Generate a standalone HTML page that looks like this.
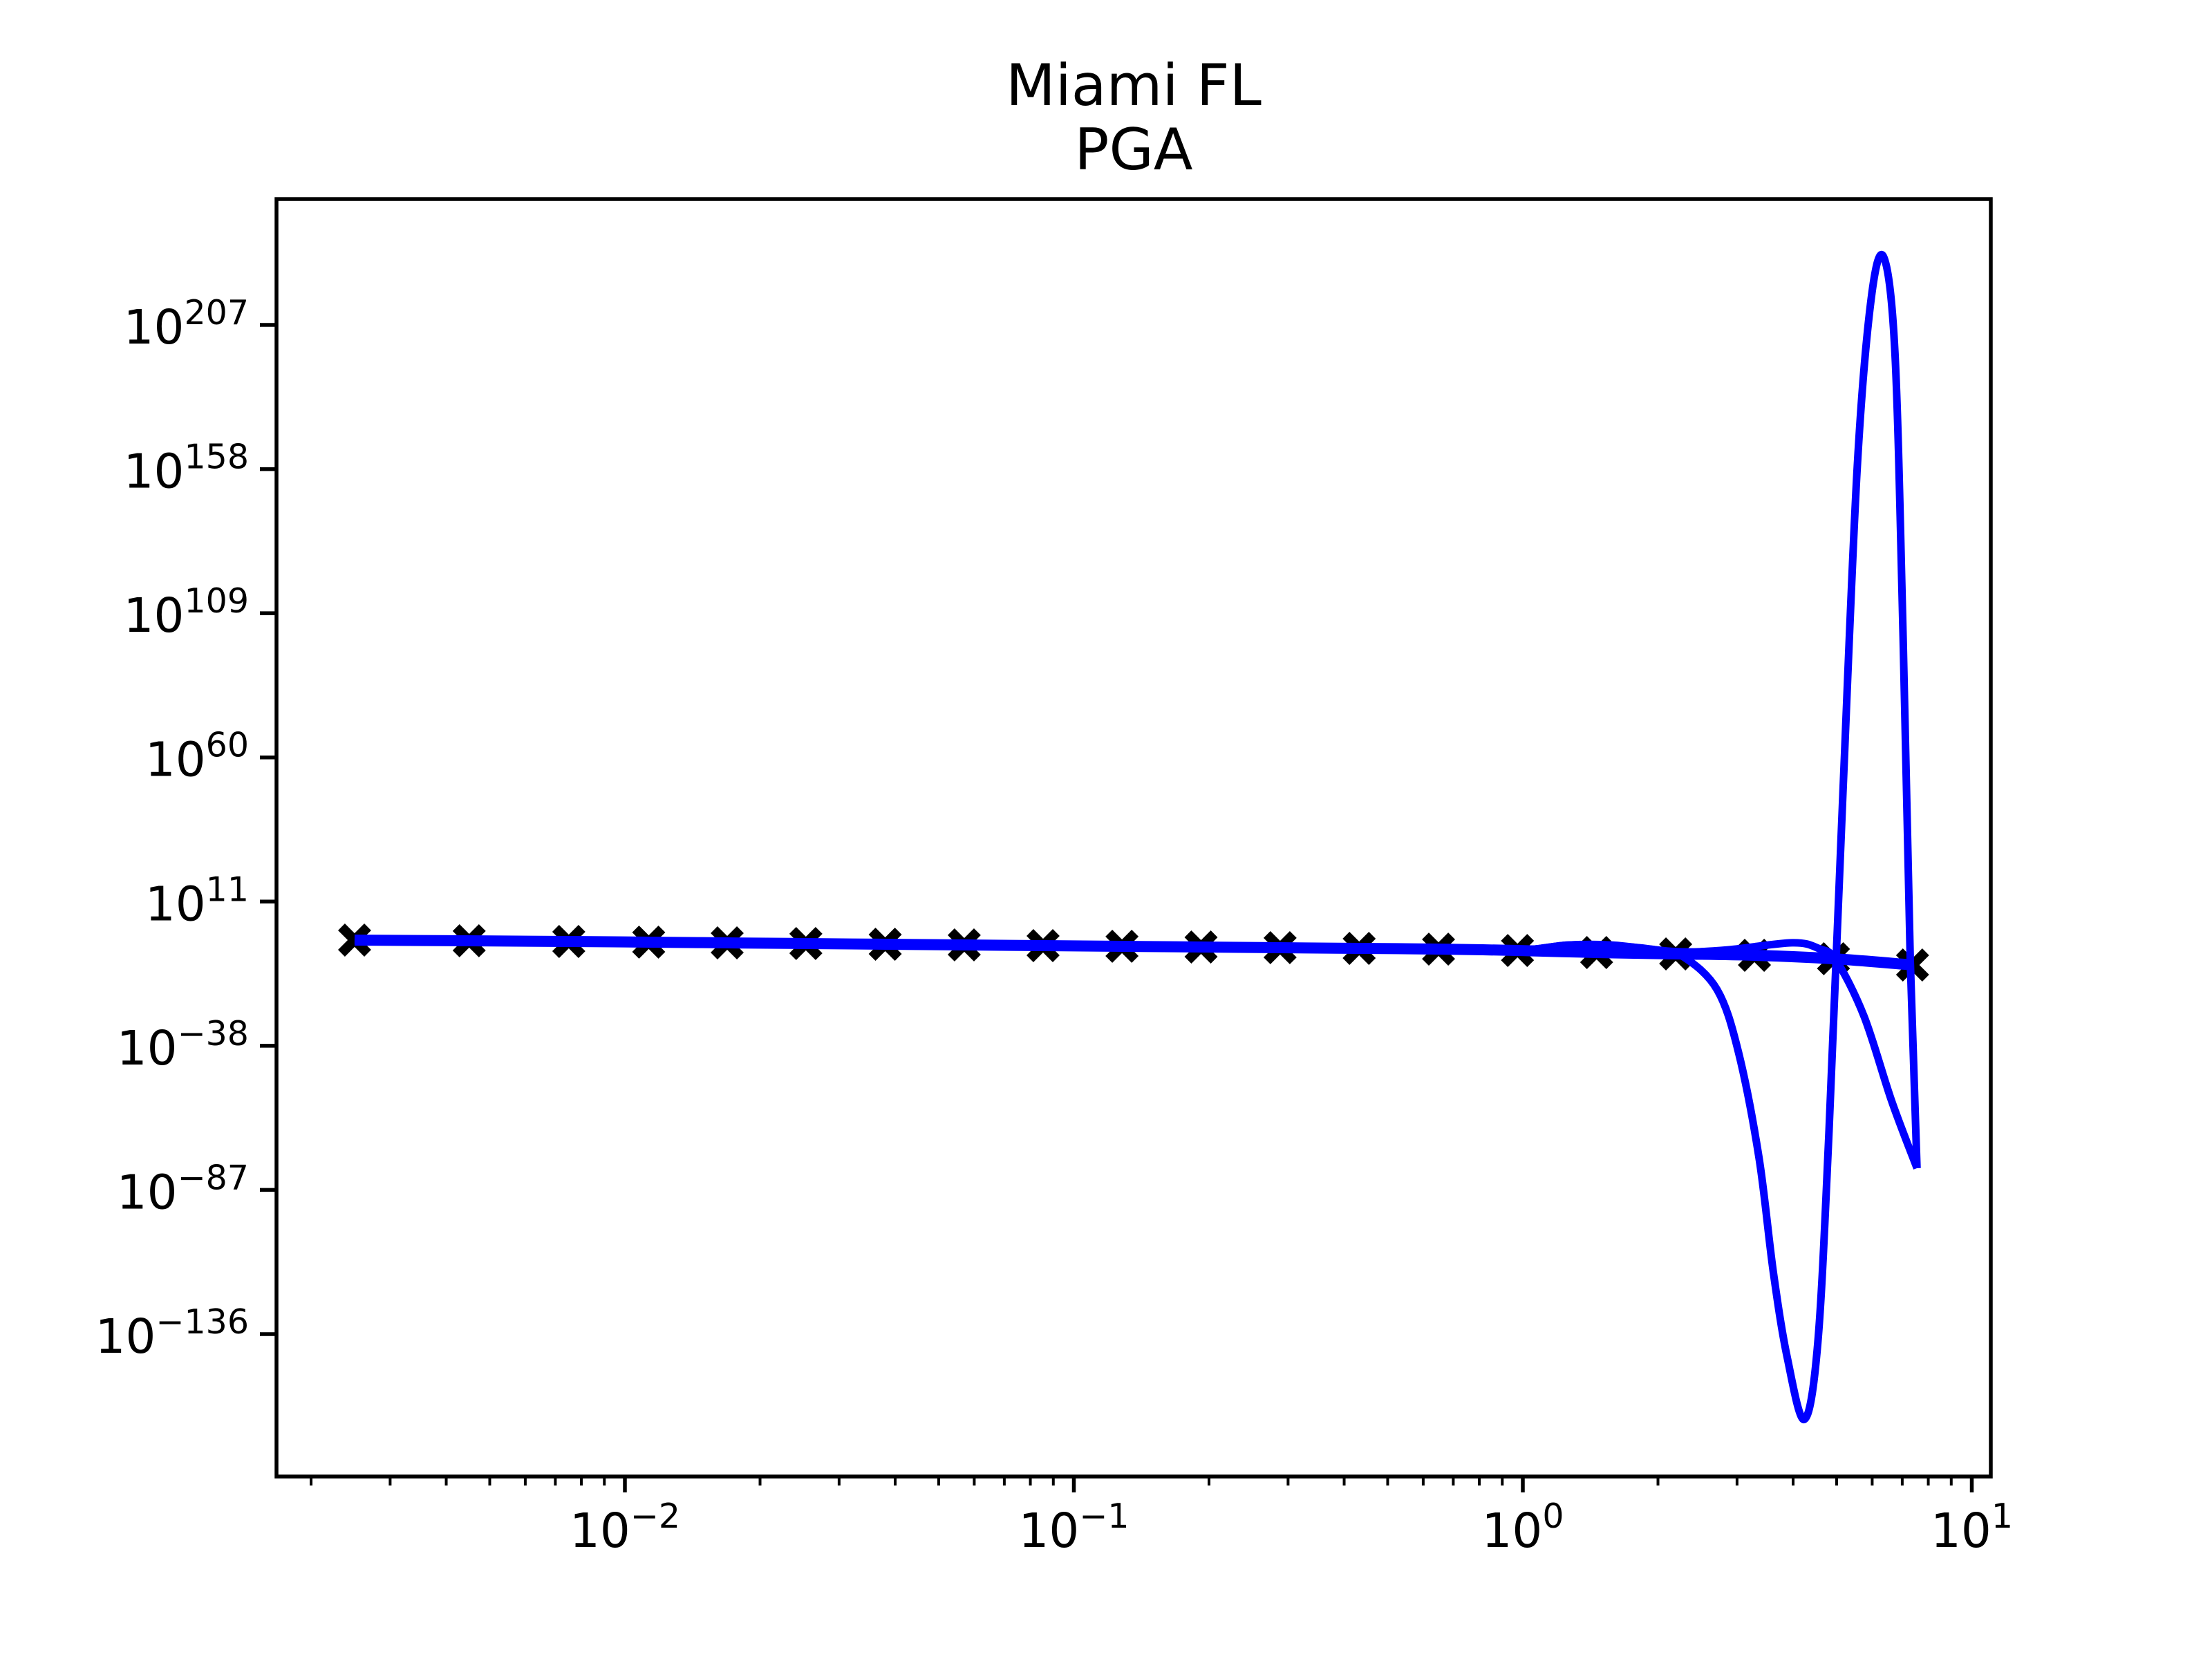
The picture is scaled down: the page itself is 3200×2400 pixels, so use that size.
<!DOCTYPE html>
<html><head><meta charset="utf-8"><style>
html,body{margin:0;padding:0;background:#fff;}
svg{display:block;font-family:"DejaVu Sans","Liberation Sans",sans-serif;}
</style></head><body>
<svg id="chart" width="3200" height="2400" viewBox="0 0 3200 2400" xmlns="http://www.w3.org/2000/svg">
<rect width="3200" height="2400" fill="#fff"/>
<text x="1640" y="152" font-size="83" text-anchor="middle">Miami FL</text>
<text x="1640" y="245" font-size="83" text-anchor="middle">PGA</text>
<g id="plot"></g>
</svg>
<script>
// x values (PGA, g)
const xLevels = [0.0025,0.0045,0.0075,0.0113,0.0169,0.0253,0.0380,0.0570,0.0854,0.128,0.192,0.288,0.432,0.649,0.973,1.46,2.19,3.28,4.92,7.38];
// observed hazard, log10 exponents
const obsExp = [-2.09,-2.32,-2.56,-2.79,-3.03,-3.26,-3.50,-3.73,-3.97,-4.20,-4.44,-4.67,-4.91,-5.15,-5.62,-6.32,-6.79,-7.26,-8.43,-10.55];
// fit curve B tail (log10 x, log10 y) after x=0.973
const fitBLogX = [0.10,0.20,0.34,0.45,0.60,0.66,0.698,0.76,0.822,0.878];
const fitBExp  = [-3.8,-3.8,-6.0,-5.5,-3.0,-5.0,-9,-28,-57,-79.6];
// fit curve A tail after x=0.973
const fitALogX = [0.10,0.20,0.30,0.36,0.433,0.48,0.526,0.558,0.589,0.627,0.657,0.682,0.713,0.745,0.776,0.804,0.829,0.847,0.863,0.878];
const fitAExp  = [-3.8,-4.0,-5.5,-8,-19,-40,-76,-115,-144,-165,-139,-67,48,159,216,230,197,101,-9,-79.6];
const yTickExp = [207,158,109,60,11,-38,-87,-136];
const xTickExp = [-2,-1,0,1];

const L=400,R=2880,T=288,B=2136;
const X0=2203, DEC=649.5;
const Y207=470, PER=208.57/49;
function xs(v){return X0+Math.log10(v)*DEC;}
function xl(lv){return X0+lv*DEC;}
function ys(e){return Y207+(207-e)*PER;}
const NS="http://www.w3.org/2000/svg";
const g=document.getElementById('plot');
function mk(tag,attrs,parent){const el=document.createElementNS(NS,tag);for(const k in attrs)el.setAttribute(k,attrs[k]);(parent||g).appendChild(el);return el;}

const defs=mk('defs',{});
const cp=mk('clipPath',{id:'clip'},defs);
mk('rect',{x:L,y:T,width:R-L,height:B-T},cp);

const mg=mk('g',{});


xLevels.forEach((v,i)=>{
  const cx=xs(v), cy=ys(obsExp[i]), s=19;
  const p=mk('path',{d:`M${cx-s},${cy-s}L${cx+s},${cy+s}M${cx-s},${cy+s}L${cx+s},${cy-s}`,stroke:'#000','stroke-width':14,fill:'none'},mg);
  
  
});

function spline(pts){
  let d=`M${pts[0][0]},${pts[0][1]}`;
  for(let i=0;i<pts.length-1;i++){
    const p0=pts[Math.max(0,i-1)],p1=pts[i],p2=pts[i+1],p3=pts[Math.min(pts.length-1,i+2)];
    const c1=[p1[0]+(p2[0]-p0[0])/6,p1[1]+(p2[1]-p0[1])/6];
    const c2=[p2[0]-(p3[0]-p1[0])/6,p2[1]-(p3[1]-p1[1])/6];
    d+=`C${c1[0]},${c1[1]} ${c2[0]},${c2[1]} ${p2[0]},${p2[1]}`;
  }
  return d;
}
const lg=mk('g',{'clip-path':'url(#clip)'});


const mainPts=xLevels.map((v,i)=>[xs(v),ys(obsExp[i])]);
const pMain=mk('path',{d:spline(mainPts),stroke:'#0000ff','stroke-width':16,fill:'none','stroke-linejoin':'round'},lg);


const bPts=mainPts.slice(0,15).concat(fitBLogX.map((lx,i)=>[xl(lx),ys(fitBExp[i])]));
const pB=mk('path',{d:spline(bPts),stroke:'#0000ff','stroke-width':11,fill:'none'},lg);


const aPts=mainPts.slice(0,15).concat(fitALogX.map((lx,i)=>[xl(lx),ys(fitAExp[i])]));
const pA=mk('path',{d:spline(aPts),stroke:'#0000ff','stroke-width':11,fill:'none'},lg);



const fr=mk('rect',{x:L,y:T,width:R-L,height:B-T,fill:'none',stroke:'#000','stroke-width':5.5});



yTickExp.forEach(e=>{
  const y=ys(e);
  const t=mk('line',{x1:L-24,x2:L,y1:y,y2:y,stroke:'#000','stroke-width':5.5});
  
  
  const tx=mk('text',{x:L-40,y:y+27,'font-size':69,'text-anchor':'end'});
  
  
  tx.appendChild(document.createTextNode('10'));
  const ts=mk('tspan',{dy:-28,'font-size':49},tx);
  ts.textContent=String(e).replace('-','\u2212');
});
for(let d=-3;d<=1;d++){
  for(let m=1;m<=9;m++){
    const v=m*Math.pow(10,d), x=xs(v);
    if(x<L||x>R)continue;
    const major=m===1;
    const t=mk('line',{x1:x,x2:x,y1:B,y2:B+(major?23:13),stroke:'#000','stroke-width':major?5.5:4});
    
    
  }
}
xTickExp.forEach(e=>{
  const x=X0+e*DEC;
  const tx=mk('text',{x:x,y:2238,'font-size':69,'text-anchor':'middle'});
  
  
  tx.appendChild(document.createTextNode('10'));
  const ts=mk('tspan',{dy:-28,'font-size':49},tx);
  ts.textContent=String(e).replace('-','\u2212');
});
</script>
</body></html>
